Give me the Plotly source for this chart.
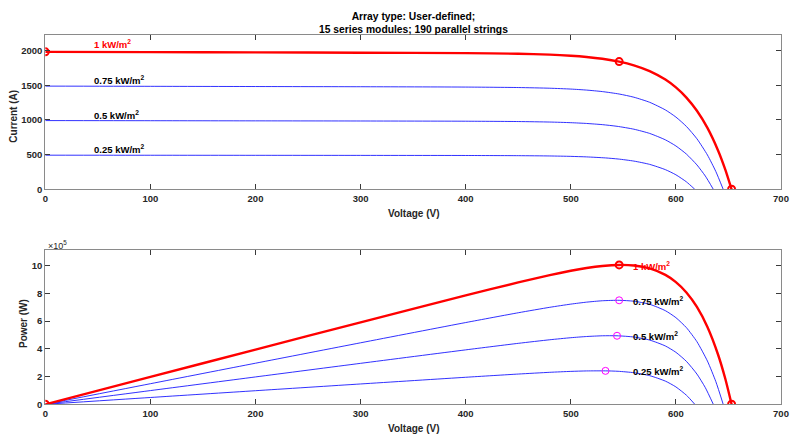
import plotly.graph_objects as go

# ---- data ----
irr_labels = ["1 kW/m<sup>2</sup>", "0.75 kW/m<sup>2</sup>", "0.5 kW/m<sup>2</sup>", "0.25 kW/m<sup>2</sup>"]

v_1000 = [0, 100, 200, 300, 400, 450, 480, 500, 515, 530, 546, 560, 575, 590, 600, 610, 620, 630, 640, 647, 653]
i_1000 = [1982, 1978, 1974, 1970, 1963.4, 1954.3, 1941.6, 1926.2, 1908.5, 1882.4, 1841.1, 1787.9, 1704.7,
          1582.0, 1468.9, 1322.3, 1132.3, 885.1, 564.2, 284.4, 0]

v_750 = [0, 100, 200, 300, 400, 450, 480, 500, 515, 530, 546, 560, 575, 590, 600, 610, 620, 630, 638, 645]
i_750 = [1488, 1485, 1482, 1479, 1474.2, 1467.4, 1457.6, 1445.3, 1430.8, 1409.1, 1373.9, 1327.9, 1254.7,
         1144.5, 1041.6, 906.4, 728.7, 495.1, 256.3, 0]

v_500 = [0, 100, 200, 300, 400, 450, 480, 500, 515, 530, 544, 560, 575, 590, 600, 610, 620, 628, 635.6]
i_500 = [991, 989, 987, 985, 981.8, 977.1, 969.9, 960.6, 949.4, 932.4, 908.5, 866.8, 806.0, 713.1, 625.0,
         507.8, 351.9, 191.0, 0]

v_250 = [0, 100, 200, 300, 400, 450, 480, 500, 515, 533, 545, 560, 575, 590, 600, 610, 618]
i_250 = [492, 491, 490, 489, 487.5, 484.9, 480.7, 474.8, 467.4, 452.5, 436.9, 407.0, 359.5, 283.4, 209.1,
         107.5, 0]

mpp_v = [546, 546, 544, 533]

x_ticks = [0, 100, 200, 300, 400, 500, 600, 700]
i_ticks = [0, 500, 1000, 1500, 2000]
p_ticks = [0, 2e5, 4e5, 6e5, 8e5, 10e5]
p_ticktext = ["0", "2", "4", "6", "8", "10"]

curves = [(v_1000, i_1000), (v_750, i_750), (v_500, i_500), (v_250, i_250)]

W, H = 790, 437
def px(x):
    return x / W
def py(y):
    return 1 - y / H

FONT = "Liberation Sans"
RED = "#ff0000"
BLUE = "#1a1aff"

fig = go.Figure()

for k in [3, 2, 1, 0]:
    v, i = curves[k]
    p = [a * b for a, b in zip(v, i)]
    if k == 0:
        line = dict(color=RED, width=2.4, shape="spline", smoothing=0.6)
    else:
        line = dict(color=BLUE, width=0.9, shape="spline", smoothing=0.6)
    fig.add_trace(go.Scatter(x=v, y=i, mode="lines", line=line, xaxis="x", yaxis="y",
                             showlegend=False, hoverinfo="skip"))
    fig.add_trace(go.Scatter(x=v, y=p, mode="lines", line=line, xaxis="x2", yaxis="y2",
                             showlegend=False, hoverinfo="skip"))

# markers
v, i = curves[0]
k_mpp = v.index(mpp_v[0])
fig.add_trace(go.Scatter(x=[v[0], v[k_mpp], v[-1]], y=[i[0], i[k_mpp], i[-1]], mode="markers",
                         marker=dict(symbol="circle-open", size=7, color=RED, line=dict(width=2)),
                         xaxis="x", yaxis="y", showlegend=False, hoverinfo="skip"))
fig.add_trace(go.Scatter(x=[v[0], v[k_mpp], v[-1]],
                         y=[v[0] * i[0], v[k_mpp] * i[k_mpp], v[-1] * i[-1]], mode="markers",
                         marker=dict(symbol="circle-open", size=7, color=RED, line=dict(width=2)),
                         xaxis="x2", yaxis="y2", showlegend=False, hoverinfo="skip"))
mx, my = [], []
for k in [1, 2, 3]:
    v, i = curves[k]
    j = v.index(mpp_v[k])
    mx.append(v[j]); my.append(v[j] * i[j])
fig.add_trace(go.Scatter(x=mx, y=my, mode="markers",
                         marker=dict(symbol="circle-open", size=7, color="#ff00ff", line=dict(width=1)),
                         xaxis="x2", yaxis="y2", showlegend=False, hoverinfo="skip"))

xdom = [px(45.3), px(781)]
axis_common = dict(showline=True, linecolor="#8a8a8a", linewidth=1, mirror="allticks", ticks="inside",
                   ticklen=5, tickcolor="#3a3a3a", tickwidth=1, showgrid=False, zeroline=False,
                   tickfont=dict(family=FONT, size=9.5, color="#262626", weight="bold"), automargin=False)

fig.update_layout(
    width=W, height=H, margin=dict(l=0, r=0, t=0, b=0),
    paper_bgcolor="white", plot_bgcolor="white",
    xaxis=dict(domain=xdom, range=[0, 700], tickvals=x_ticks, anchor="y", **axis_common),
    yaxis=dict(domain=[py(189.3), py(35)], range=[0, 2225], tickvals=i_ticks, anchor="x", **axis_common),
    xaxis2=dict(domain=xdom, range=[0, 700], tickvals=x_ticks, anchor="y2", **axis_common),
    yaxis2=dict(domain=[py(404.3), py(250)], range=[0, 1.113e6], tickvals=p_ticks, ticktext=p_ticktext,
                anchor="x2", **axis_common),
)

ann = []
lab_font = dict(family=FONT, size=9.5, color="black", weight="bold")
# title
ann.append(dict(text="<b>Array type: User-defined;<br>15 series modules; 190 parallel strings</b>",
                x=px(413), y=py(22.5), xref="paper", yref="paper", showarrow=False,
                font=dict(family=FONT, size=10.3, color="black"), xanchor="center", yanchor="middle"))
# axis titles
ann.append(dict(text="<b>Voltage (V)</b>", x=px(413), y=py(213.3), xref="paper", yref="paper", showarrow=False,
                font=dict(family=FONT, size=10, color="#262626"), xanchor="center", yanchor="middle"))
ann.append(dict(text="<b>Voltage (V)</b>", x=px(413), y=py(428.3), xref="paper", yref="paper", showarrow=False,
                font=dict(family=FONT, size=10, color="#262626"), xanchor="center", yanchor="middle"))
ann.append(dict(text="<b>Current (A)</b>", x=px(12.7), y=py(116), xref="paper", yref="paper", showarrow=False,
                textangle=-90, font=dict(family=FONT, size=10, color="#262626"), xanchor="center", yanchor="middle"))
ann.append(dict(text="<b>Power (W)</b>", x=px(23), y=py(324), xref="paper", yref="paper", showarrow=False,
                textangle=-90, font=dict(family=FONT, size=10, color="#262626"), xanchor="center", yanchor="middle"))
ann.append(dict(text="×10<sup>5</sup>", x=px(46), y=py(245), xref="paper", yref="paper", showarrow=False,
                font=dict(family=FONT, size=9, color="#262626"), xanchor="left", yanchor="middle"))

# curve labels, top plot
top_y = [2092, 1577, 1072, 581]
for k in range(4):
    ann.append(dict(text=irr_labels[k], x=44, y=top_y[k], xref="x", yref="y", showarrow=False,
                    xanchor="left", yanchor="middle",
                    font=dict(lab_font, color=RED if k == 0 else "black")))
# curve labels, bottom plot
bot_y = [10.0e5, 7.45e5, 4.93e5, 2.38e5]
for k in range(4):
    ann.append(dict(text=irr_labels[k], x=557, y=bot_y[k], xref="x2", yref="y2", showarrow=False,
                    xanchor="left", yanchor="middle",
                    font=dict(lab_font, color=RED if k == 0 else "black")))
fig.update_layout(annotations=ann)

fig.write_html("out.html")
